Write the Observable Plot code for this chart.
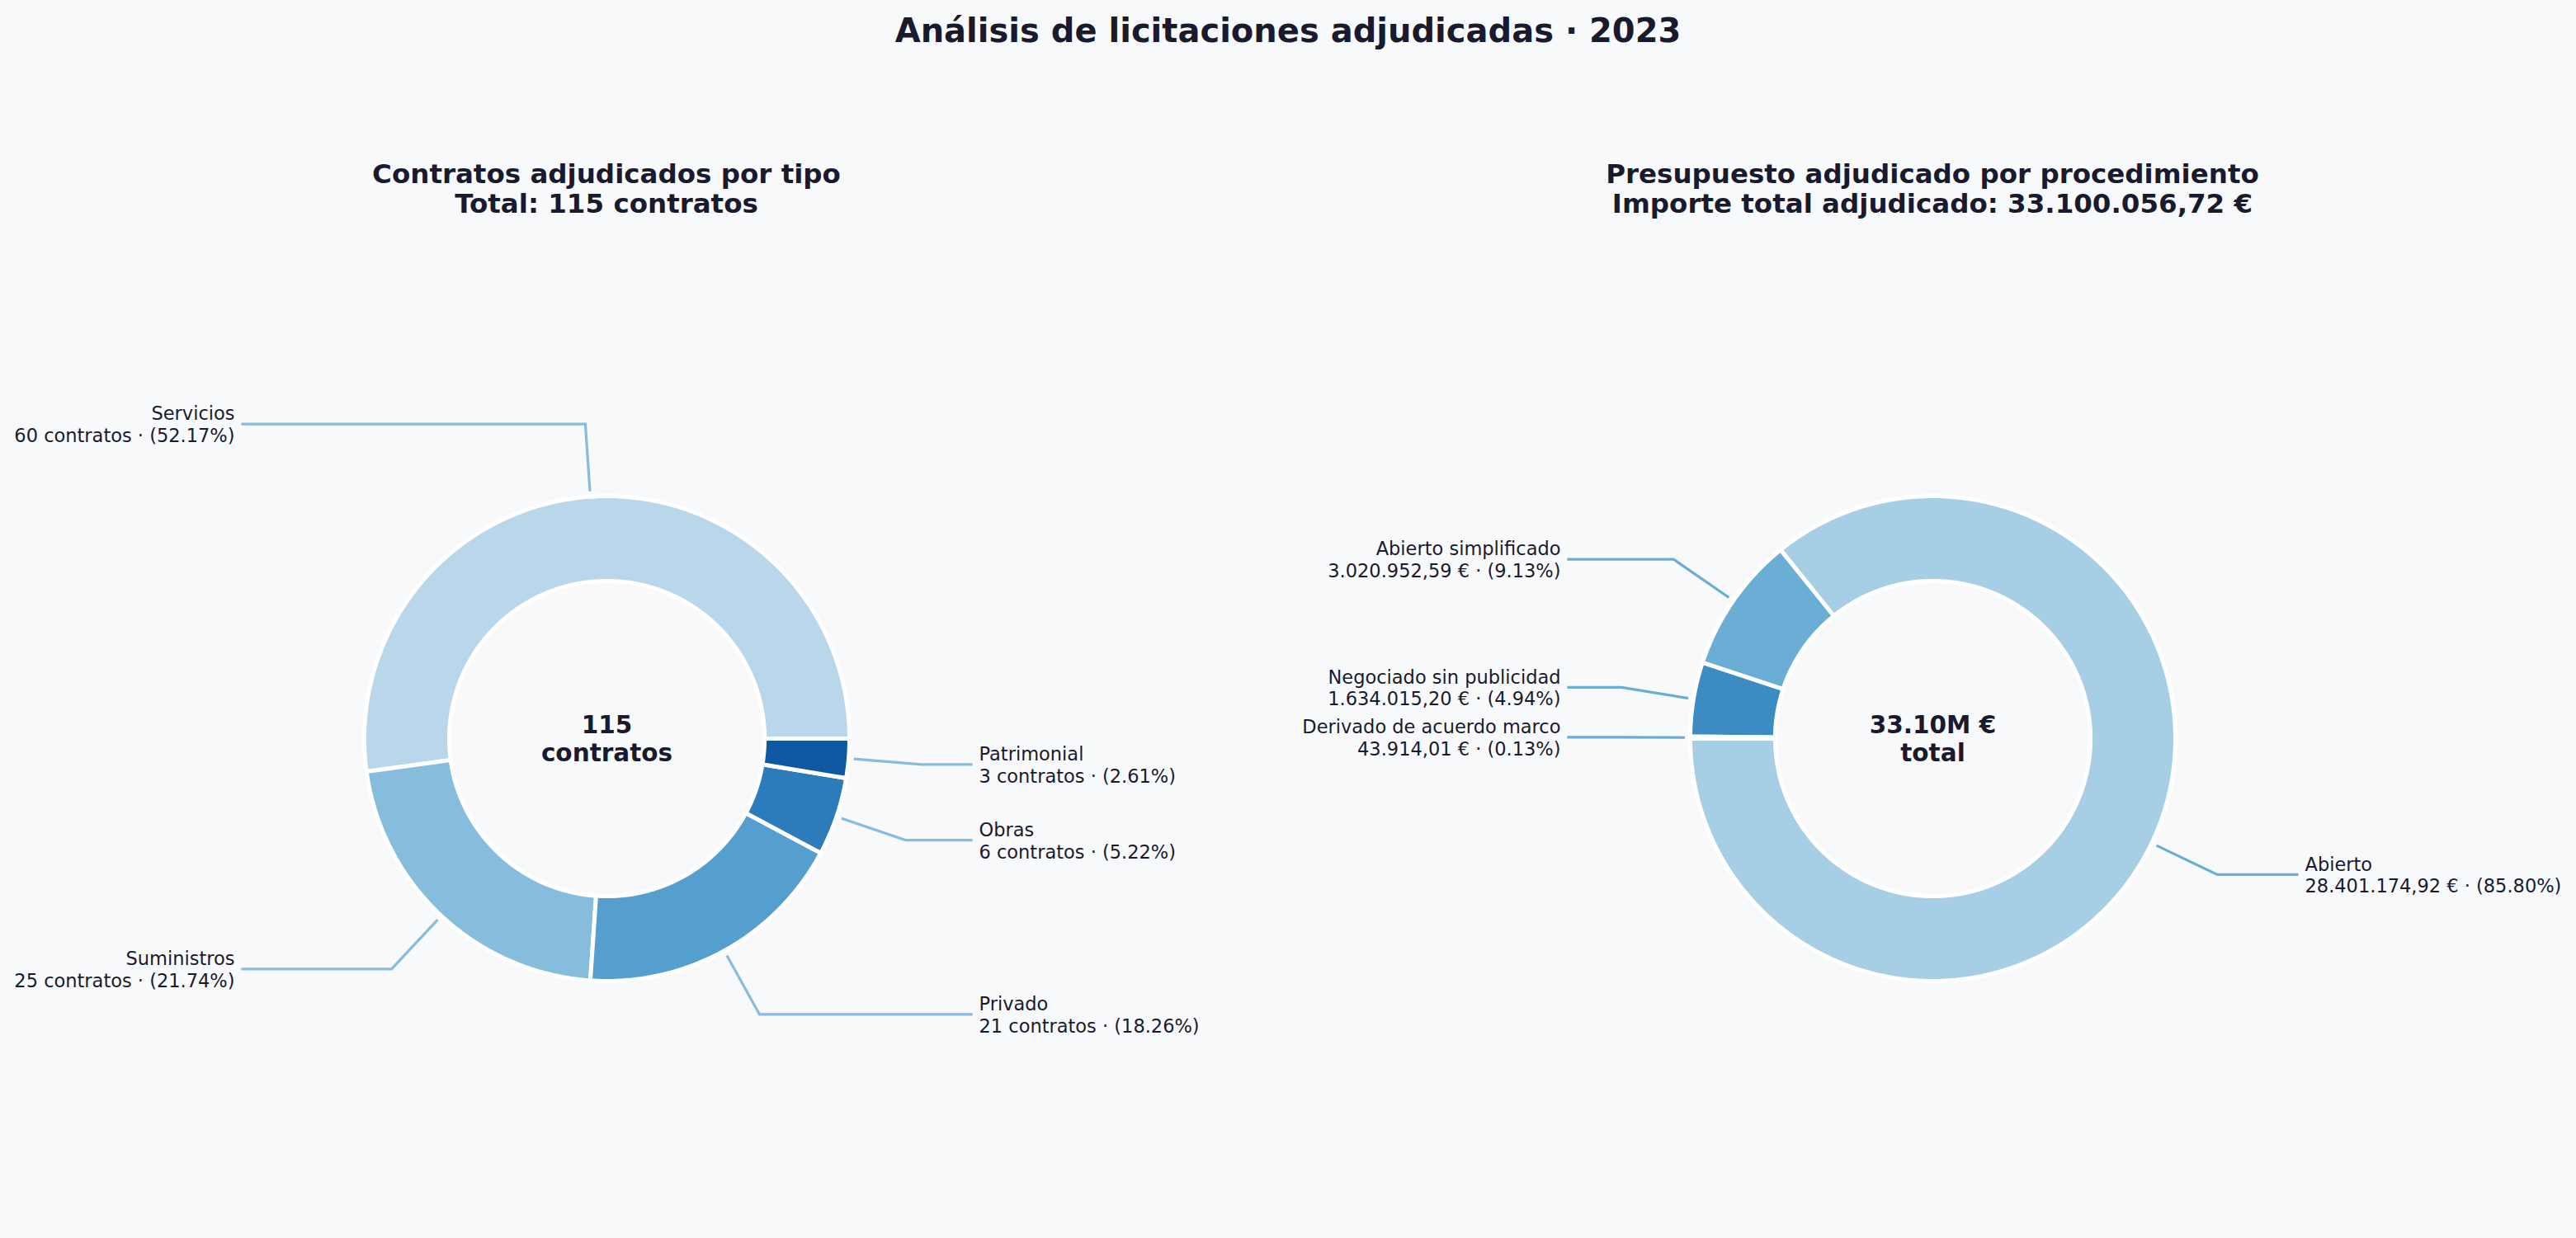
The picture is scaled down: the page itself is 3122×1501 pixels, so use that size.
<!DOCTYPE html>
<html>
<head>
<meta charset="utf-8">
<script src="https://cdn.jsdelivr.net/npm/d3@7"></script>
<script src="https://cdn.jsdelivr.net/npm/@observablehq/plot@0.6"></script>
<style>
html, body { margin: 0; padding: 0; background: #f8f9fa; }
body { width: 3122px; height: 1501px; overflow: hidden; font-family: "DejaVu Sans", sans-serif; color: #1a1a2e; }
#title { height: 74px; line-height: 74px; text-align: center; font-weight: bold; font-size: 40px; white-space: nowrap; }
.row { display: flex; margin-top: 119px; }
.col { width: 1561px; flex: none; }
.sub { font-weight: bold; font-size: 32.5px; line-height: 36px; height: 72px; text-align: center; white-space: nowrap; }
</style>
</head>
<body>
<div id="title">Análisis de licitaciones adjudicadas · 2023</div>
<div class="row">
  <div class="col" id="left"><div class="sub" id="subL" style="width:1470px"></div></div>
  <div class="col" id="right"><div class="sub" id="subR" style="width:1562px"></div></div>
</div>
<script>
// ---------- DATA ----------
const tipoCategorias = ["Servicios", "Suministros", "Privado", "Obras", "Patrimonial"];
const tipoContratos = [60, 25, 21, 6, 3];
const tipoColores = ["#b9d6ea", "#86bcdc", "#549fcd", "#2c7bba", "#0e58a2"];

const procCategorias = ["Abierto", "Abierto simplificado", "Negociado sin publicidad", "Derivado de acuerdo marco"];
const procImportes = [28401174.92, 3020952.59, 1634015.20, 43914.01];
const procColores = ["#a6cee4", "#6aaed6", "#3c8bc3", "#1764ab"];

// ---------- HELPERS ----------
const es = d3.formatLocale({decimal: ",", thousands: ".", grouping: [3], currency: ["", " €"]});
const fmtEur = v => es.format(",.2f")(v) + " €";
const fmtPct = s => `(${(s * 100).toFixed(2)}%)`;
const rad = a => a * Math.PI / 180;

function slicesOf(cats, vals, startDeg) {
  const total = d3.sum(vals);
  let acc = 0;
  return cats.map((c, i) => {
    const a0 = startDeg + acc / total * 360;
    acc += vals[i];
    const a1 = startDeg + acc / total * 360;
    return {cat: c, value: vals[i], share: vals[i] / total, a0, a1, mid: (a0 + a1) / 2};
  });
}

function ringPoints(slices, rIn) {
  const pts = [];
  for (const s of slices) {
    const n = Math.max(2, Math.ceil((s.a1 - s.a0) / 0.5));
    const angs = d3.range(n + 1).map(k => s.a0 + (s.a1 - s.a0) * k / n);
    const path = [...angs.map(a => [a, 1]), ...angs.slice().reverse().map(a => [a, rIn])];
    path.push(path[0]);
    for (const [a, r] of path) pts.push({cat: s.cat, x: r * Math.cos(rad(a)), y: r * Math.sin(rad(a))});
  }
  return pts;
}

function leaderPoints(slices) {
  return slices.flatMap(s => {
    const c = Math.cos(rad(s.mid)), sn = Math.sin(rad(s.mid));
    const side = c >= 0 ? 1 : -1;
    const ly = 1.3 * sn;
    return [
      {cat: s.cat, x: side * 1.507, y: ly},
      {cat: s.cat, x: 1.3 * c, y: ly},
      {cat: s.cat, x: 1.022 * c, y: 1.022 * sn}
    ];
  });
}

function labelRows(slices, fmtVal) {
  return slices.map(s => {
    const c = Math.cos(rad(s.mid)), sn = Math.sin(rad(s.mid));
    const side = c >= 0 ? 1 : -1;
    return {side, x: side * 1.534, y: 1.3 * sn, text: `${s.cat}\n${fmtVal(s.value)} · ${fmtPct(s.share)}`};
  });
}

const W = 1561, H = 1237, CY = 630, PPU = 294, R_IN = 0.65;
const INK = "#1a1a2e";

function donutChart({cats, vals, colors, startDeg, cx, fmtVal, centerText, leaderColor}) {
  const slices = slicesOf(cats, vals, startDeg);
  const labels = labelRows(slices, fmtVal);
  const center = [{x: 0, y: 0, text: centerText}];
  return Plot.plot({
    width: W, height: H, margin: 0,
    style: {background: "transparent", overflow: "visible"},
    x: {domain: [-cx / PPU, (W - cx) / PPU], axis: null},
    y: {domain: [-(H - CY) / PPU, CY / PPU], axis: null},
    color: {domain: cats, range: colors},
    marks: [
      Plot.line(ringPoints(slices, R_IN), {x: "x", y: "y", z: "cat", fill: "cat", stroke: "white", strokeWidth: 5, strokeLinejoin: "round", curve: "linear"}),
      Plot.line(leaderPoints(slices), {x: "x", y: "y", z: "cat", stroke: leaderColor, strokeWidth: 3.2, strokeLinejoin: "miter", strokeLinecap: "butt", strokeMiterlimit: 10}),
      Plot.text(labels.filter(d => d.side > 0), {x: "x", y: "y", text: "text", textAnchor: "start", lineAnchor: "middle", lineHeight: 1.19, fontSize: 22.5, fontFamily: "DejaVu Sans", fill: INK}),
      Plot.text(labels.filter(d => d.side < 0), {x: "x", y: "y", text: "text", textAnchor: "end", lineAnchor: "middle", lineHeight: 1.19, fontSize: 22.5, fontFamily: "DejaVu Sans", fill: INK}),
      Plot.text(center, {x: "x", y: "y", text: "text", textAnchor: "middle", lineAnchor: "middle", lineHeight: 1.15, fontSize: 29.5, fontWeight: "bold", fontFamily: "DejaVu Sans", fill: INK})
    ]
  });
}

const totalContratos = d3.sum(tipoContratos);
const totalImporte = d3.sum(procImportes);

document.getElementById("subL").innerHTML = `Contratos adjudicados por tipo<br>Total: ${totalContratos} contratos`;
document.getElementById("subR").innerHTML = `Presupuesto adjudicado por procedimiento<br>Importe total adjudicado: ${fmtEur(totalImporte)}`;

document.getElementById("left").appendChild(donutChart({
  cats: tipoCategorias, vals: tipoContratos, colors: tipoColores, startDeg: 0, cx: 735,
  fmtVal: v => `${v} contratos`, centerText: `${totalContratos}\ncontratos`, leaderColor: "#86bcdc"
}));
document.getElementById("right").appendChild(donutChart({
  cats: procCategorias, vals: procImportes, colors: procColores, startDeg: 180, cx: 781,
  fmtVal: fmtEur, centerText: `${(totalImporte / 1e6).toFixed(2)}M €\ntotal`, leaderColor: "#6aaed6"
}));
</script>
</body>
</html>
